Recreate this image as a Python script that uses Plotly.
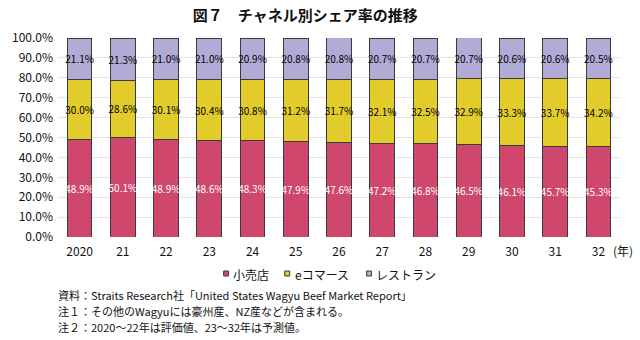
import plotly.graph_objects as go

years = ["2020", "21", "22", "23", "24", "25", "26", "27", "28", "29", "30", "31", "32"]
retail = [48.9, 50.1, 48.9, 48.6, 48.3, 47.9, 47.6, 47.2, 46.8, 46.5, 46.1, 45.7, 45.3]
ecommerce = [30.0, 28.6, 30.1, 30.4, 30.8, 31.2, 31.7, 32.1, 32.5, 32.9, 33.3, 33.7, 34.2]
restaurant = [21.1, 21.3, 21.0, 21.0, 20.9, 20.8, 20.8, 20.7, 20.7, 20.7, 20.6, 20.6, 20.5]
series_names = ["小売店", "eコマース", "レストラン"]
y_ticks = [0, 10, 20, 30, 40, 50, 60, 70, 80, 90, 100]
y_tick_text = ["0.0%", "10.0%", "20.0%", "30.0%", "40.0%", "50.0%", "60.0%", "70.0%", "80.0%", "90.0%", "100.0%"]

title = "図７　チャネル別シェア率の推移"
notes = [
    "資料：Straits Research社「United States Wagyu Beef Market Report」",
    "注１：その他のWagyuには豪州産、NZ産などが含まれる。",
    "注２：2020～22年は評価値、23～32年は予測値。",
]

narrow = "Liberation Sans Narrow, Arial Narrow, Noto Sans CJK JP, sans-serif"
label_font = "Noto Sans CJK JP, sans-serif"

# plot area in pixels (for placing legend/notes in paper coords)
L, R, T, B = 50, 620, 38, 237
def px(x):
    return (x - L) / (R - L)
def py(y):
    return (B - y) / (B - T)

colors = ["#D0476D", "#E2CC2C", "#B3ACD6"]
text_colors = ["white", "black", "black"]
patterns = [None, None, dict(shape="x", size=3, solidity=0.15, fgcolor="#9C94C6", bgcolor="#B3ACD6")]

fig = go.Figure()
for name, vals, color, tcol, pat in zip(series_names, [retail, ecommerce, restaurant], colors, text_colors, patterns):
    marker = dict(color=color, line=dict(color="#3A3A3A", width=1))
    if pat:
        marker["pattern"] = pat
    fig.add_trace(go.Bar(
        x=years, y=vals, name=name, marker=marker,
        text=[f"{v:.1f}%" for v in vals], textposition="inside",
        insidetextanchor="middle", textangle=0,
        textfont=dict(color=tcol, size=10, family=label_font),
        constraintext="none", showlegend=False,
    ))

fig.update_layout(
    barmode="stack", bargap=0.43,
    width=640, height=340,
    margin=dict(l=L, r=640 - R, t=T, b=340 - B),
    paper_bgcolor="white", plot_bgcolor="white",
    font=dict(family=label_font, color="black"),
    title=dict(text=f"<b>{title}</b>", x=0.477, xanchor="center", y=0.955, yanchor="middle",
               font=dict(size=15, family=label_font, color="#111")),
    showlegend=False,
)
fig.update_yaxes(range=[0, 100], tickvals=y_ticks, ticktext=y_tick_text,
                 showgrid=True, gridcolor="#E2E2E2", gridwidth=1, zeroline=False,
                 showline=False, ticks="", ticklabelstandoff=4,
                 tickfont=dict(size=12, family=narrow, color="#111"))
fig.update_xaxes(showgrid=False, showline=False, ticks="", ticklabelstandoff=6,
                 tickfont=dict(size=12, family=narrow, color="#111"))

fig.add_annotation(text="(年)", xref="paper", yref="paper", x=px(611), y=py(250),
                   xanchor="left", yanchor="middle", showarrow=False,
                   font=dict(size=12, family=label_font, color="#111"))

# custom compact legend
legend_marker_x = [218, 280, 363]
legend_text_x = [225, 288, 370]
ly = 274
for name, color, mx, tx in zip(series_names, colors, legend_marker_x, legend_text_x):
    fig.add_shape(type="rect", xref="paper", yref="paper",
                  x0=px(mx), x1=px(mx + 5), y0=py(ly - 3), y1=py(ly + 2),
                  fillcolor=color, line=dict(color="#3A3A3A", width=1))
    fig.add_annotation(text=name, xref="paper", yref="paper", x=px(tx), y=py(ly),
                       xanchor="left", yanchor="middle", showarrow=False,
                       font=dict(size=12, family=label_font, color="#111"))

for i, n in enumerate(notes):
    fig.add_annotation(text=n, xref="paper", yref="paper", x=px(48), xanchor="left",
                       y=py(295 + 16 * i), yanchor="middle", showarrow=False,
                       font=dict(size=11, family=label_font, color="#111"))

fig.write_html("out.html")
